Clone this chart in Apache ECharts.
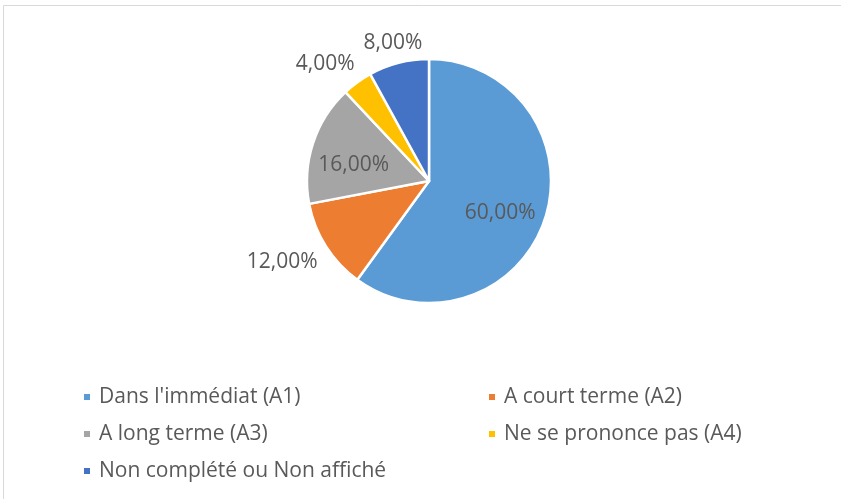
<!DOCTYPE html>
<html>
<head>
<meta charset="utf-8">
<script src="https://cdn.jsdelivr.net/npm/echarts@6/dist/echarts.min.js"></script>
<style>html,body{margin:0;padding:0;background:#fff}#c{width:841px;height:499px}</style>
</head>
<body>
<div id="c"></div>
<script>
var categories = ["Dans l'immédiat (A1)", "A court terme (A2)", "A long terme (A3)", "Ne se prononce pas (A4)", "Non complété ou Non affiché"];
var values = [60, 12, 16, 4, 8];
var colors = ['#5B9BD5', '#ED7D31', '#A5A5A5', '#FFC000', '#4472C4'];
var insideLabels = [true, false, true, false, false];
var legendLeft = [categories[0], categories[2], categories[4]];
var legendRight = [categories[1], categories[3]];

var FONT = '"Open Sans", sans-serif';
var TXT = '#595959';
var FS = 21;
function fmt(p) { return p.value.toFixed(2).replace('.', ',') + '%'; }

var chart = echarts.init(document.getElementById('c'));
var pieData = categories.map(function (n, i) {
  return { name: n, value: values[i], itemStyle: { color: colors[i] } };
});

var legendText = { color: TXT, fontSize: FS, fontFamily: FONT, lineHeight: 22, padding: [0, 0, 0, 3] };

chart.setOption({
  animation: false,
  graphic: [{
    type: 'rect', silent: true, z: -10,
    shape: { x: 3.5, y: 5.5, width: 900, height: 700 },
    style: { fill: 'none', stroke: '#d9d9d9', lineWidth: 1 }
  }],
  legend: [{
    data: legendLeft, orient: 'vertical', left: 82, top: 386, padding: 0,
    icon: 'rect', itemWidth: 8, itemHeight: 8, itemGap: 15,
    textStyle: legendText
  }, {
    data: legendRight, orient: 'vertical', left: 487, top: 386, padding: 0,
    icon: 'rect', itemWidth: 8, itemHeight: 8, itemGap: 15,
    textStyle: legendText
  }],
  series: [{
    type: 'pie',
    center: [429, 181],
    radius: [0, 122],
    startAngle: 90,
    clockwise: true,
    avoidLabelOverlap: false,
    itemStyle: { borderColor: '#fff', borderWidth: 2.5 },
    label: {
      show: true, position: 'outside', formatter: fmt,
      color: TXT, fontSize: FS, fontFamily: FONT,
      distanceToLabelLine: 0
    },
    labelLine: { show: true, length: 10, length2: 0, lineStyle: { opacity: 0 } },
    labelLayout: function (p) {
      var pts = p.labelLinePoints;
      if (!pts || pts.length < 2) return {};
      var a = pts[0], b = pts[1];
      var dx = b[0] - a[0], dy = b[1] - a[1];
      var len = Math.sqrt(dx * dx + dy * dy) || 1;
      var ux = dx / len, uy = dy / len;
      var w = p.labelRect.width, h = p.labelRect.height;
      var sx = Math.sign(ux) * Math.max(0, Math.min(1, (Math.abs(ux) - 0.2) * 2.3));
      var sy = Math.sign(uy) * Math.min(1, Math.abs(uy) * 2);
      return {
        x: b[0] + sx * w / 2,
        y: b[1] + sy * h / 2,
        align: 'center',
        verticalAlign: 'middle'
      };
    },
    data: pieData.map(function (d, i) {
      return insideLabels[i] ? Object.assign({}, d, { label: { show: false }, labelLine: { show: false } }) : d;
    })
  }, {
    type: 'pie',
    center: [429, 181],
    radius: [0, 148],
    startAngle: 90,
    clockwise: true,
    silent: true,
    z: 5,
    itemStyle: { color: 'rgba(0,0,0,0)', borderWidth: 0 },
    label: { show: true, position: 'inside', formatter: fmt, color: TXT, fontSize: FS, fontFamily: FONT, offset: [-2, 8] },
    labelLine: { show: false },
    data: categories.map(function (n, i) {
      return { name: n, value: values[i], label: { show: insideLabels[i] }, itemStyle: { color: 'rgba(0,0,0,0)' } };
    })
  }]
});
</script>
</body>
</html>
